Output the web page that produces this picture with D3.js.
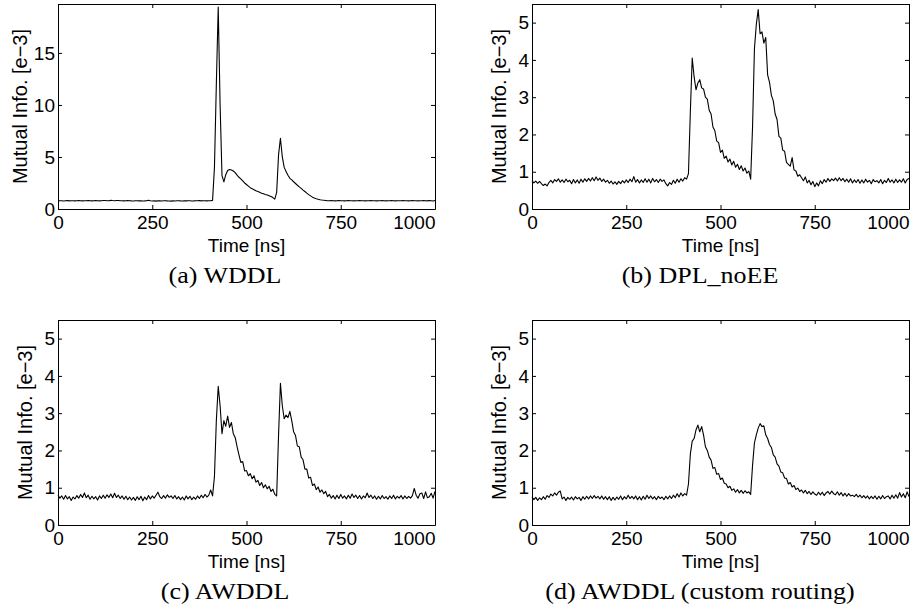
<!DOCTYPE html>
<html>
<head>
<meta charset="utf-8">
<script src="https://cdn.jsdelivr.net/npm/d3@7"></script>
<style>
body { margin: 0; background: #fff; }
svg text { fill: #000; }
</style>
</head>
<body>
<svg id="fig" width="915" height="612"></svg>
<script>
// sample times (ns), one every 5 ns
var time = d3.range(0, 1001, 5);

// mutual information, units of 1e-3
var wddl = [
  0.78,0.80,0.79,0.77,0.80,0.81,0.78,0.79,0.80,0.78,
  0.79,0.81,0.80,0.78,0.79,0.80,0.82,0.79,0.78,0.80,
  0.81,0.79,0.78,0.80,0.82,0.81,0.79,0.80,0.83,0.81,
  0.80,0.82,0.81,0.79,0.80,0.78,0.79,0.81,0.80,0.78,
  0.77,0.79,0.80,0.78,0.79,0.77,0.78,0.80,0.84,0.79,
  0.77,0.78,0.76,0.79,0.78,0.77,0.79,0.80,0.78,0.77,
  0.76,0.78,0.77,0.79,0.80,0.78,0.77,0.79,0.78,0.80,
  0.79,0.77,0.78,0.80,0.79,0.81,0.78,0.79,0.80,0.78,
  0.79,0.80,
  0.83,4.0,12.0,19.4,10.0,3.2,2.6,3.3,3.7,3.8,
  3.75,3.65,3.5,3.25,3.05,2.9,2.7,2.5,2.35,2.2,
  2.05,1.95,1.85,1.75,1.68,1.6,1.52,1.46,1.4,1.35,
  1.28,1.2,1.1,0.95,1.6,5.2,6.8,5.0,4.0,3.6,
  3.25,2.95,2.8,2.62,2.45,2.28,2.12,1.98,1.82,1.68,
  1.52,1.38,1.26,1.14,1.06,0.99,0.93,0.89,0.86,0.84,
  0.82,
  0.80,0.79,0.81,0.80,0.78,0.79,0.81,0.80,0.79,0.78,
  0.80,0.81,0.79,0.80,0.78,0.79,0.80,0.82,0.80,0.79,
  0.78,0.80,0.79,0.81,0.80,0.79,0.78,0.80,0.79,0.81,
  0.80,0.78,0.79,0.80,0.81,0.79,0.78,0.80,0.79,0.80,
  0.82,0.80,0.79,0.78,0.80,0.81,0.79,0.80,0.78,0.79,
  0.80,0.82,0.79,0.78,0.81,0.80,0.77,0.82
];

var dplNoEE = [
  0.76,0.70,0.75,0.69,0.74,0.68,0.63,0.67,0.62,0.71,
  0.77,0.70,0.79,0.74,0.81,0.72,0.78,0.71,0.80,0.73,
  0.77,0.68,0.79,0.70,0.78,0.69,0.80,0.72,0.81,0.74,
  0.82,0.75,0.84,0.76,0.86,0.77,0.83,0.74,0.80,0.72,
  0.77,0.69,0.75,0.67,0.73,0.66,0.74,0.68,0.76,0.70,
  0.78,0.71,0.80,0.73,0.87,0.72,0.79,0.70,0.78,0.71,
  0.81,0.72,0.80,0.70,0.82,0.73,0.79,0.71,0.80,0.74,
  0.78,0.68,0.62,0.71,0.66,0.77,0.69,0.80,0.72,0.81,
  0.75,0.84,
  0.80,0.95,2.6,4.05,3.55,3.2,3.38,3.47,3.25,3.22,
  3.0,2.95,2.65,2.55,2.2,2.1,1.82,1.78,1.52,1.58,
  1.36,1.42,1.26,1.34,1.18,1.28,1.12,1.2,1.06,1.16,
  1.02,1.1,0.96,1.02,0.8,2.2,4.3,4.95,5.35,4.7,
  4.75,4.45,4.6,3.6,3.4,3.05,2.9,2.55,2.4,1.95,
  1.9,1.58,1.55,1.25,1.2,1.15,1.38,1.05,1.02,0.88,
  0.92,
  0.84,0.76,0.86,0.70,0.77,0.65,0.74,0.60,0.70,0.62,
  0.76,0.68,0.79,0.72,0.82,0.74,0.81,0.76,0.83,0.75,
  0.84,0.76,0.82,0.73,0.80,0.72,0.81,0.70,0.78,0.71,
  0.79,0.69,0.78,0.70,0.80,0.72,0.77,0.68,0.79,0.73,
  0.76,0.70,0.79,0.68,0.77,0.71,0.82,0.72,0.78,0.70,
  0.80,0.71,0.78,0.72,0.81,0.70,0.79,0.82
];

var awddl = [
  0.80,0.72,0.78,0.69,0.79,0.70,0.76,0.66,0.75,0.70,
  0.79,0.72,0.82,0.74,0.86,0.73,0.80,0.69,0.77,0.70,
  0.76,0.67,0.78,0.71,0.80,0.72,0.81,0.74,0.83,0.73,
  0.85,0.74,0.80,0.71,0.78,0.69,0.77,0.68,0.75,0.67,
  0.74,0.66,0.76,0.68,0.77,0.65,0.75,0.68,0.79,0.70,
  0.78,0.72,0.80,0.88,0.76,0.71,0.79,0.72,0.81,0.74,
  0.78,0.71,0.79,0.70,0.76,0.68,0.75,0.67,0.78,0.70,
  0.77,0.68,0.75,0.69,0.78,0.71,0.80,0.73,0.82,0.75,
  0.80,0.94,
  0.78,1.3,2.8,3.72,3.2,2.45,2.8,2.65,2.92,2.62,
  2.75,2.45,2.35,2.1,1.88,1.68,1.7,1.45,1.46,1.32,
  1.38,1.24,1.32,1.15,1.2,1.06,1.14,1.0,1.08,0.97,
  1.04,0.9,0.96,0.82,0.78,2.4,3.8,3.2,2.85,2.95,
  2.88,3.05,2.8,2.5,2.4,2.12,2.1,1.82,1.75,1.5,
  1.5,1.26,1.28,1.06,1.1,0.95,1.02,0.88,0.94,0.84,
  0.9,
  0.76,0.82,0.72,0.79,0.70,0.80,0.71,0.82,0.72,0.78,
  0.70,0.80,0.72,0.83,0.74,0.80,0.71,0.79,0.70,0.78,
  0.73,0.86,0.74,0.80,0.71,0.78,0.69,0.77,0.70,0.79,
  0.71,0.76,0.69,0.78,0.71,0.80,0.70,0.77,0.72,0.79,
  0.70,0.78,0.71,0.77,0.72,0.79,0.98,0.80,0.72,0.84,
  0.86,0.71,0.89,0.73,0.76,0.85,0.72,0.90
];

var awddlCustom = [
  0.76,0.68,0.74,0.66,0.73,0.68,0.76,0.69,0.79,0.74,
  0.83,0.78,0.86,0.80,0.88,0.91,0.70,0.75,0.66,0.74,
  0.69,0.75,0.67,0.76,0.70,0.74,0.66,0.76,0.69,0.77,
  0.70,0.78,0.71,0.79,0.72,0.77,0.70,0.78,0.69,0.76,
  0.68,0.76,0.66,0.74,0.67,0.75,0.69,0.78,0.68,0.76,
  0.70,0.80,0.71,0.77,0.70,0.78,0.68,0.76,0.67,0.77,
  0.69,0.80,0.71,0.78,0.70,0.76,0.68,0.77,0.71,0.75,
  0.68,0.77,0.70,0.78,0.71,0.80,0.73,0.84,0.75,0.86,
  0.78,0.84,
  0.80,1.1,1.9,2.25,2.32,2.55,2.68,2.5,2.64,2.42,
  2.1,2.0,1.82,1.74,1.52,1.54,1.36,1.38,1.22,1.26,
  1.12,1.1,1.0,1.04,0.93,0.97,0.88,0.95,0.86,0.93,
  0.85,0.92,0.86,0.89,0.82,1.6,2.2,2.42,2.6,2.72,
  2.64,2.66,2.42,2.32,2.16,2.08,1.88,1.82,1.64,1.58,
  1.42,1.4,1.26,1.25,1.1,1.14,1.02,1.06,0.95,0.99,
  0.9,
  0.94,0.86,0.93,0.84,0.90,0.82,0.89,0.83,0.80,0.88,
  0.81,0.88,0.79,0.86,0.90,0.83,0.91,0.84,0.81,0.89,
  0.80,0.87,0.78,0.85,0.77,0.84,0.78,0.80,0.76,0.82,
  0.75,0.80,0.73,0.79,0.72,0.78,0.70,0.77,0.71,0.78,
  0.69,0.77,0.70,0.79,0.71,0.76,0.78,0.70,0.80,0.72,
  0.81,0.72,0.87,0.75,0.84,0.73,0.89,0.76
];

var xTicks = [0, 250, 500, 750, 1000];
var yTicksWide = [0, 5, 10, 15];
var yTicksNarrow = [0, 1, 2, 3, 4, 5];
var captions = ["(a) WDDL", "(b) DPL_noEE", "(c) AWDDL", "(d) AWDDL (custom routing)"];

var W = 377, H = 205;
var sans = "'Liberation Sans', Arial, Helvetica, sans-serif";
var serif = "'Liberation Serif', 'Times New Roman', serif";

var panels = [
  {values: wddl,        ymax: 19.7, yticks: yTicksWide,   left: 58,  top: 4,   labelOff: 31, capX: 225, caption: captions[0]},
  {values: dplNoEE,     ymax: 5.5,  yticks: yTicksNarrow, left: 532, top: 4,   labelOff: 26, capX: 700, caption: captions[1]},
  {values: awddl,       ymax: 5.5,  yticks: yTicksNarrow, left: 58,  top: 320, labelOff: 26, capX: 225, caption: captions[2]},
  {values: awddlCustom, ymax: 5.5,  yticks: yTicksNarrow, left: 532, top: 320, labelOff: 26, capX: 700, caption: captions[3]}
];

var svg = d3.select("#fig");
var fmt = d3.format("d");

function styleAxis(g, size) {
  g.select(".domain").attr("stroke", "#000").attr("stroke-width", 1);
  g.selectAll(".tick line").attr("stroke", "#000");
  g.selectAll("text")
    .attr("font-family", sans)
    .attr("font-size", size)
    .attr("fill", "#000");
}

function drawPanel(p) {
  var x = d3.scaleLinear().domain([0, 1000]).range([p.left, p.left + W]);
  var y = d3.scaleLinear().domain([0, p.ymax]).range([p.top + H, p.top]);
  var bottom = p.top + H;

  var line = d3.line()
    .x(function (d, i) { return x(time[i]); })
    .y(function (d) { return y(d); });

  svg.append("path")
    .datum(p.values)
    .attr("fill", "none")
    .attr("stroke", "#000")
    .attr("stroke-width", 1.1)
    .attr("stroke-linejoin", "round")
    .attr("d", line);

  // bottom axis with labels
  var gx = svg.append("g")
    .attr("transform", "translate(0," + bottom + ")")
    .call(d3.axisBottom(x).tickValues(xTicks).tickFormat(fmt)
      .tickSizeInner(-4).tickSizeOuter(0).tickPadding(7));
  styleAxis(gx, 19);
  gx.selectAll(".tick text")
    .filter(function (d) { return d === 1000; })
    .attr("text-anchor", "end");

  // left axis with labels
  var gy = svg.append("g")
    .attr("transform", "translate(" + p.left + ",0)")
    .call(d3.axisLeft(y).tickValues(p.yticks).tickFormat(fmt)
      .tickSizeInner(-4).tickSizeOuter(0).tickPadding(3));
  styleAxis(gy, 19);

  // mirrored box sides
  var gt = svg.append("g")
    .attr("transform", "translate(0," + p.top + ")")
    .call(d3.axisTop(x).tickValues(xTicks).tickSizeInner(-4).tickSizeOuter(0).tickFormat(""));
  styleAxis(gt, 19);
  var gr = svg.append("g")
    .attr("transform", "translate(" + (p.left + W) + ",0)")
    .call(d3.axisRight(y).tickValues(p.yticks).tickSizeInner(-4).tickSizeOuter(0).tickFormat(""));
  styleAxis(gr, 19);

  svg.append("text")
    .attr("transform", "translate(" + (p.left - p.labelOff) + "," + (p.top + H / 2) + ") rotate(-90)")
    .attr("text-anchor", "middle")
    .attr("font-family", sans)
    .attr("font-size", 20)
    .text("Mutual Info. [e\u22123]");

  svg.append("text")
    .attr("x", p.left + W / 2)
    .attr("y", bottom + 43)
    .attr("text-anchor", "middle")
    .attr("font-family", sans)
    .attr("font-size", 19)
    .text("Time [ns]");

  svg.append("text")
    .attr("transform", "translate(" + p.capX + "," + (bottom + 74) + ") scale(1.13,1)")
    .attr("text-anchor", "middle")
    .attr("font-family", serif)
    .attr("font-size", 23)
    .text(p.caption);
}

panels.forEach(drawPanel);
</script>
</body>
</html>
